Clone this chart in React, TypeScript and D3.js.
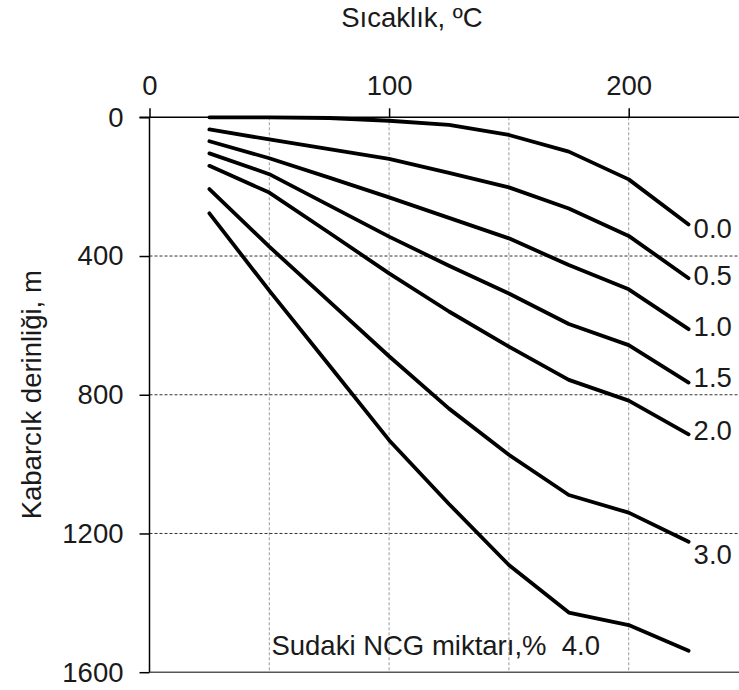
import { useEffect, useRef } from "react"
import * as d3 from "d3"

// temperature (°C) where each curve is sampled
const temps = [25, 50, 75, 100, 125, 150, 175, 200, 225]

// NCG content labels (%)
const ncgLabels = ["0.0", "0.5", "1.0", "1.5", "2.0", "3.0", "4.0"]

// bubble point depth (m) per NCG content
const depth00 = [0, 0, 2, 10, 22, 51, 99, 179, 309]
const depth05 = [35, 64, 92, 120, 160, 202, 263, 342, 464]
const depth10 = [69, 118, 174, 231, 290, 349, 426, 496, 611]
const depth15 = [104, 164, 254, 344, 428, 508, 596, 657, 765]
const depth20 = [140, 217, 333, 450, 560, 661, 757, 817, 914]
const depth30 = [207, 373, 531, 689, 840, 973, 1089, 1140, 1224]
const depth40 = [277, 500, 715, 931, 1115, 1291, 1428, 1464, 1538]

const xTicks = [0, 100, 200]
const xGrid = [50, 100, 150, 200]
const yTicks = [0, 400, 800, 1200, 1600]
const yGrid = [400, 800, 1200]

const W = 739
const H = 690
const FONT = "'Liberation Sans', Arial, sans-serif"
const FS = "27.5px"

const App = () => {
  const svgRef = useRef<SVGSVGElement>(null)

  useEffect(() => {
    const svg = d3.select(svgRef.current)
    svg.selectAll("*").remove()

    const series = [depth00, depth05, depth10, depth15, depth20, depth30, depth40]

    const x = d3.scaleLinear().domain([0, 250]).range([149.5, 748.5])
    const y = d3.scaleLinear().domain([0, 1600]).range([117.3, 672.2])

    // vertical grid (light dashed)
    svg
      .append("g")
      .selectAll("line")
      .data(xGrid)
      .enter()
      .append("line")
      .attr("x1", (d) => x(d))
      .attr("x2", (d) => x(d))
      .attr("y1", y(0))
      .attr("y2", y(1600))
      .attr("stroke", "#9a9a9a")
      .attr("stroke-width", 1)
      .attr("stroke-dasharray", "3,2")

    // horizontal grid (dark dashed)
    svg
      .append("g")
      .selectAll("line")
      .data(yGrid)
      .enter()
      .append("line")
      .attr("x1", x(0))
      .attr("x2", W)
      .attr("y1", (d) => y(d))
      .attr("y2", (d) => y(d))
      .attr("stroke", "#333")
      .attr("stroke-width", 1)
      .attr("stroke-dasharray", "3,2")

    // bottom frame line
    svg
      .append("line")
      .attr("x1", x(0))
      .attr("x2", W)
      .attr("y1", y(1600))
      .attr("y2", y(1600))
      .attr("stroke", "#555")
      .attr("stroke-width", 1.5)

    // top x axis
    const xAxis = svg
      .append("g")
      .attr("transform", `translate(0,${y(0)})`)
      .call(d3.axisTop(x).tickValues(xTicks).tickSize(9).tickPadding(13).tickFormat(d3.format("d")))
    xAxis.select(".domain").attr("d", `M${x(0) - 10},0H${W}`).attr("stroke", "#000").attr("stroke-width", 1.5)

    // left y axis
    const yAxis = svg
      .append("g")
      .attr("transform", `translate(${x(0)},0)`)
      .call(d3.axisLeft(y).tickValues(yTicks).tickSize(10).tickPadding(16).tickFormat(d3.format("d")))
    yAxis.select(".domain").attr("d", `M0,${y(0)}V${y(1600)}`).attr("stroke", "#000").attr("stroke-width", 1.5)

    svg.selectAll(".tick line").attr("stroke", "#000").attr("stroke-width", 1.5)
    svg
      .selectAll(".tick text")
      .attr("fill", "#1a1a1a")
      .style("font-family", FONT)
      .style("font-size", FS)

    // curves
    const line = d3
      .line<number>()
      .x((d, i) => x(temps[i]))
      .y((d) => y(d))

    series.forEach((s) => {
      svg
        .append("path")
        .datum(s)
        .attr("fill", "none")
        .attr("stroke", "#000")
        .attr("stroke-width", 3.8)
        .attr("stroke-linejoin", "round")
        .attr("stroke-linecap", "round")
        .attr("d", line)
    })

    // curve labels at line ends
    const labelDy = [14, 7, 7, 4, 6, 22]
    const last = temps.length - 1
    series.slice(0, 6).forEach((s, i) => {
      svg
        .append("text")
        .attr("x", x(temps[last]) + 5)
        .attr("y", y(s[last]) + labelDy[i])
        .attr("fill", "#1a1a1a")
        .style("font-family", FONT)
        .style("font-size", FS)
        .text(ncgLabels[i])
    })

    // last curve label with legend text
    svg
      .append("text")
      .attr("x", 600)
      .attr("y", 655)
      .attr("text-anchor", "end")
      .attr("fill", "#1a1a1a")
      .style("font-family", FONT)
      .style("font-size", FS)
      .style("white-space", "pre")
      .text(`Sudaki NCG miktarı,%  ${ncgLabels[6]}`)

    // axis titles
    svg
      .append("text")
      .attr("x", 412)
      .attr("y", 27)
      .attr("text-anchor", "middle")
      .attr("fill", "#1a1a1a")
      .style("font-family", FONT)
      .style("font-size", FS)
      .text("Sıcaklık, ºC")

    svg
      .append("text")
      .attr("transform", `translate(41,${(y(0) + y(1600)) / 2}) rotate(-90)`)
      .attr("text-anchor", "middle")
      .attr("fill", "#1a1a1a")
      .style("font-family", FONT)
      .style("font-size", FS)
      .text("Kabarcık derinliği, m")
  }, [])

  return (
    <svg
      ref={svgRef}
      width={W}
      height={H}
      style={{ position: "absolute", left: 0, top: 0, background: "#fff" }}
    />
  )
}

export default App
